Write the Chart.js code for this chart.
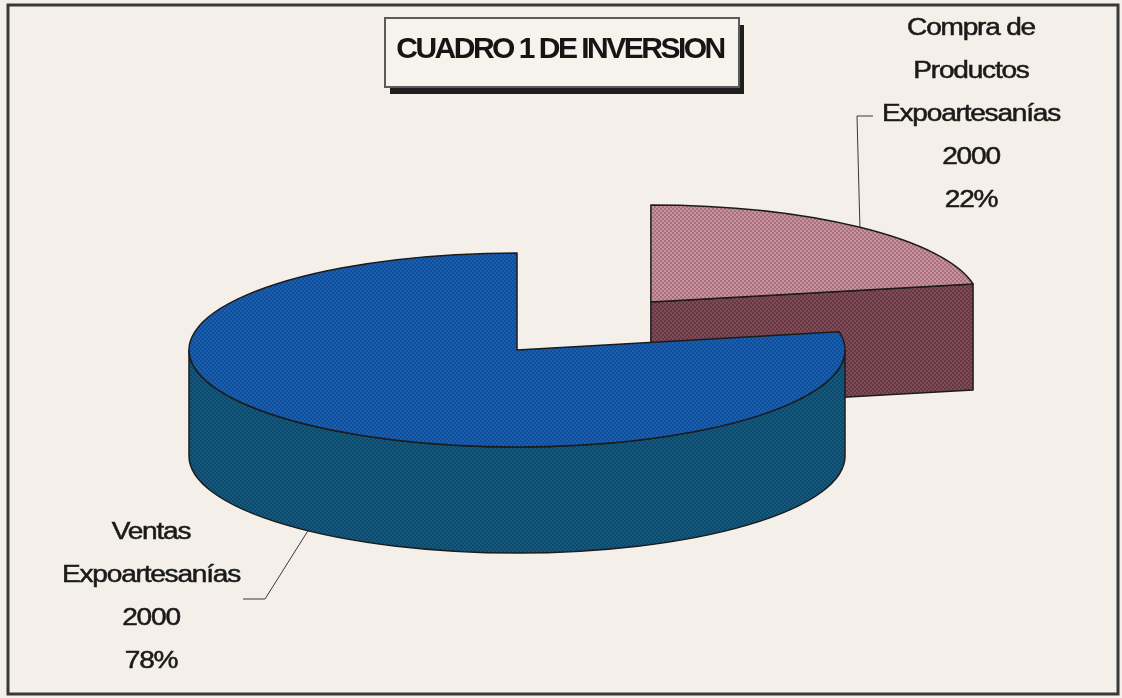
<!DOCTYPE html>
<html>
<head>
<meta charset="utf-8">
<script src="https://cdn.jsdelivr.net/npm/chart.js@4.4.1/dist/chart.umd.min.js"></script>
<style>
  body { margin: 0; background: #f4f0e9; }
  canvas { display: block; }
</style>
</head>
<body>
<canvas id="pie" width="1122" height="698"></canvas>
<script>
// Data
const title = 'CUADRO 1 DE INVERSION';
const categories = [
    ['Compra de', 'Productos', 'Expoartesanías', '2000'],
    ['Ventas', 'Expoartesanías', '2000']
];
const values = [22, 78];

const total = values.reduce((a, b) => a + b, 0);
const percentLabels = values.map(v => Math.round(v / total * 100) + '%');

// small checker textures, like the printed hatch
function texture(c1, c2) {
    const p = document.createElement('canvas');
    p.width = p.height = 4;
    const g = p.getContext('2d');
    g.fillStyle = c1;
    g.fillRect(0, 0, 4, 4);
    g.fillStyle = c2;
    g.fillRect(0, 0, 2, 2);
    g.fillRect(2, 2, 2, 2);
    return g.createPattern(p, 'repeat');
}

const ctx = document.getElementById('pie').getContext('2d');

// Background + frame
const paper = {
    id: 'paper',
    beforeDraw(chart) {
        const c = chart.ctx;
        c.save();
        c.fillStyle = '#f4f0e9';
        c.fillRect(0, 0, chart.width, chart.height);
        c.strokeStyle = '#383838';
        c.lineWidth = 3;
        c.strokeRect(8, 5, 1110, 689);
        c.restore();
    }
};

// Tilted pie with extruded sides, drawn from the arc elements
const pie3d = {
    id: 'pie3d',
    beforeDatasetsDraw(chart, args, opts) {
        const c = chart.ctx;
        const meta = chart.getDatasetMeta(0);
        const ds = chart.data.datasets[0];
        const k = opts.tilt, D = opts.depth;
        const slices = meta.data.map((el, i) => {
            const mid = (el.startAngle + el.endAngle) / 2;
            const off = (el.options.offset || 0) / 4;
            return {
                i, el, mid,
                cx: el.x + Math.cos(mid) * off,
                cy: el.y + Math.sin(mid) * off * k,
                r: el.outerRadius,
                a0: el.startAngle,
                a1: el.endAngle
            };
        });
        slices.sort((a, b) => a.cy - b.cy);
        chart.$slices = slices;

        c.save();
        c.lineJoin = 'round';
        slices.forEach(s => {
            const o = s.el.options;
            const side = ds.sideColor[s.i];
            c.lineWidth = o.borderWidth;
            c.strokeStyle = o.borderColor;

            // cut faces facing the viewer
            [[s.a0, -1], [s.a1, 1]].forEach(([a, dir]) => {
                if (dir * Math.cos(a) <= 0.001) return;
                const px = s.cx + s.r * Math.cos(a);
                const py = s.cy + s.r * k * Math.sin(a);
                c.beginPath();
                c.moveTo(s.cx, s.cy);
                c.lineTo(px, py);
                c.lineTo(px, py + D);
                c.lineTo(s.cx, s.cy + D);
                c.closePath();
                c.fillStyle = side;
                c.fill();
                c.stroke();
            });

            // outer wall, front half only
            for (let base = -2 * Math.PI; base <= 2 * Math.PI; base += 2 * Math.PI) {
                const s0 = Math.max(s.a0, base);
                const e0 = Math.min(s.a1, base + Math.PI);
                if (e0 - s0 < 1e-4) continue;
                c.beginPath();
                c.ellipse(s.cx, s.cy, s.r, s.r * k, 0, s0, e0);
                c.ellipse(s.cx, s.cy + D, s.r, s.r * k, 0, e0, s0, true);
                c.closePath();
                c.fillStyle = side;
                c.fill();
                c.stroke();
            }

            // top
            c.beginPath();
            c.moveTo(s.cx, s.cy);
            c.ellipse(s.cx, s.cy, s.r, s.r * k, 0, s.a0, s.a1);
            c.closePath();
            c.fillStyle = o.backgroundColor;
            c.fill();
            c.stroke();
        });
        c.restore();
        return false;
    }
};

function stretchedText(c, text, x, y, sx) {
    c.save();
    c.translate(x, y);
    c.scale(sx, 1);
    c.fillText(text, 0, 0);
    c.strokeText(text, 0, 0);
    c.restore();
}

// Title box, data labels and leader lines
const annotations = {
    id: 'annotations',
    afterDraw(chart, args, opts) {
        const c = chart.ctx;
        const k = chart.options.plugins.pie3d.tilt;
        const D = chart.options.plugins.pie3d.depth;
        c.save();

        // title box with shadow
        const b = opts.titleBox;
        c.fillStyle = '#1e1e1e';
        c.fillRect(b.x + 5, b.y + 7, b.w, b.h);
        c.fillStyle = '#f6f2ec';
        c.fillRect(b.x, b.y, b.w, b.h);
        c.strokeStyle = '#5a5a5a';
        c.lineWidth = 2;
        c.strokeRect(b.x, b.y, b.w, b.h);
        c.fillStyle = '#151515';
        c.font = 'bold 30px "Liberation Sans", Arial, sans-serif';
        c.letterSpacing = '-2.5px';
        c.textAlign = 'center';
        c.textBaseline = 'middle';
        c.fillText(title, b.x + b.w / 2 - 2, b.y + b.h / 2 - 3);

        // labels
        c.font = '23px "Liberation Sans", Arial, sans-serif';
        c.letterSpacing = '-1px';
        c.fillStyle = '#1a1a1a';
        c.strokeStyle = '#1a1a1a';
        c.lineWidth = 0.5;
        (chart.$slices || []).forEach(s => {
            const pos = opts.labels[s.i];
            const lines = categories[s.i].concat(percentLabels[s.i]);
            lines.forEach((t, j) => stretchedText(c, t, pos.x, pos.y + j * opts.lineStep, 1.22));

            // leader to the slice edge at its mid angle
            const front = Math.sin(s.mid) > 0;
            const ex = s.cx + s.r * Math.cos(s.mid);
            const ey = s.cy + s.r * k * Math.sin(s.mid) + (front ? D : 0);
            c.save();
            c.strokeStyle = '#3a3a3a';
            c.lineWidth = 1;
            c.beginPath();
            pos.leader.forEach((p, j) => j ? c.lineTo(p.x, p.y) : c.moveTo(p.x, p.y));
            c.lineTo(ex, ey);
            c.stroke();
            c.restore();
        });
        c.restore();
    }
};

new Chart(ctx, {
    type: 'pie',
    data: {
        labels: categories.map(l => l.join(' ')),
        datasets: [{
            data: values,
            backgroundColor: [texture('#c8929c', '#a9707d'), texture('#1a5fb0', '#104e9a')],
            sideColor: [texture('#804c58', '#663843'), texture('#15597f', '#0c496b')],
            borderColor: '#1c1c1c',
            borderWidth: 1.5,
            offset: [840, 0],
            radius: 328,
            cutout: '0%'
        }]
    },
    options: {
        responsive: false,
        devicePixelRatio: 1,
        animation: false,
        events: [],
        cutout: '0%',
        layout: { padding: { left: 0, right: 88, top: 2, bottom: 0 } },
        plugins: {
            legend: { display: false },
            tooltip: { enabled: false },
            pie3d: { tilt: 0.296, depth: 106 },
            annotations: {
                titleBox: { x: 385, y: 18, w: 354, h: 69 },
                lineStep: 43,
                labels: [
                    { x: 971, y: 29, leader: [{ x: 873, y: 116 }, { x: 857, y: 116 }] },
                    { x: 151, y: 533, leader: [{ x: 243, y: 599 }, { x: 265, y: 599 }] }
                ]
            }
        }
    },
    plugins: [paper, pie3d, annotations]
});
</script>
</body>
</html>
